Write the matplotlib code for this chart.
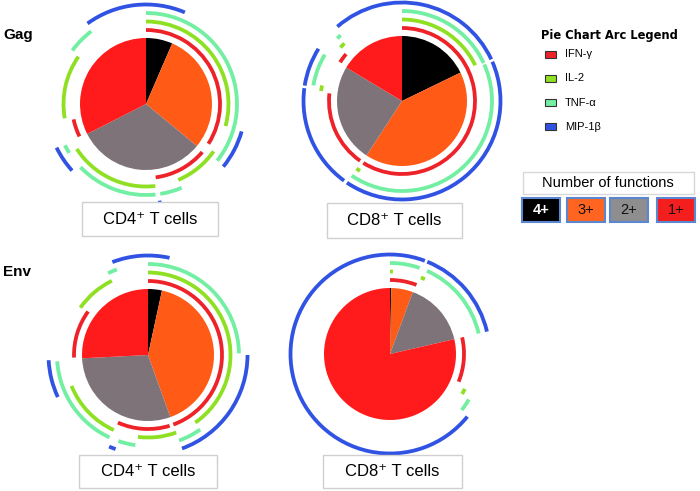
import matplotlib
matplotlib.use('Agg')
import matplotlib.pyplot as plt
from matplotlib.patches import Wedge, Rectangle

H = 491  # figure height in px, layout below uses image coords (y down)

fn_labels = ['IFN-γ', 'IL-2', 'TNF-α', 'MIP-1β']
arc_colors = ['#EE2229', '#8FE023', '#72EFA2', '#3153E3']
n_labels = ['4+', '3+', '2+', '1+']
pie_colors = ['#000000', '#FF5B17', '#7E7379', '#FF1B1B']
box_colors = ['#000000', '#FF6420', '#8E8E8E', '#F41E1E']

# share of cells by number of functions (%)
gag_cd4 = [6.5, 29.5, 31.5, 32.5]
gag_cd8 = [17.8, 41.4, 24.4, 16.4]
env_cd4 = [3.4, 41.1, 29.7, 25.8]
env_cd8 = [0.3, 5.3, 15.8, 78.6]

# arcs: (start, end) in degrees clockwise from 12 o'clock, one list per ring
gag_cd4_arcs = [
    [(0, 122.5), (130.5, 172.5), (244, 258)],
    [(0, 105.5), (125, 157), (173.5, 237), (260, 305)],
    [(0, 128.5), (157, 171), (174, 226), (237.5, 243), (306, 323)],
    [(-36, 23), (106, 129), (171, 173), (228, 244)],
]
gag_cd8_arcs = [
    [(0, 212), (215, 276), (302, 310)],
    [(0, 64), (211, 214), (277, 281), (311, 315)],
    [(0, 65), (66, 214), (280, 301), (314, 317)],
    [(-41, 65), (66.5, 214), (216, 277.5), (279, 302)],
]
env_cd4_arcs = [
    [(0, 160), (163, 204), (268, 306)],
    [(0, 145), (160, 187), (204.5, 248), (305, 334)],
    [(0, 89), (145, 160), (188, 199), (205, 266), (334, 340)],
    [(-21, 12.5), (90, 160), (199, 203), (245, 267)],
]
env_cd8_arcs = [
    [(0, 21), (77, 112)],
    [(0, 2), (22, 25), (115, 119)],
    [(0, 19), (24, 77), (120, 128)],
    [(22, 77), (129, 380.5)],
]

fig = plt.figure(figsize=(7, 4.91), dpi=100)
ax = fig.add_axes([0, 0, 1, 1])


def draw_pie(values, arcs, cx, cy, r):
    ax.pie(values, colors=pie_colors, startangle=90, counterclock=False,
           center=(cx, H - cy), radius=r, wedgeprops=dict(linewidth=0))
    offsets = [8, 16.5, 25, 33.5]
    for ring, segs in enumerate(arcs):
        rc = r + offsets[ring]
        for a0, a1 in segs:
            ax.add_patch(Wedge((cx, H - cy), rc + 1.9, 90 - a1, 90 - a0,
                               width=3.8, color=arc_colors[ring], lw=0))


def label_box(text, x0, y0, x1, y1):
    ax.add_patch(Rectangle((x0, H - y1), x1 - x0, y1 - y0, fc='white',
                           ec='#D0D0D0', lw=1))
    ax.text((x0 + x1) / 2, H - (y0 + y1) / 2, text, ha='center', va='center',
            fontsize=12, family=['Liberation Sans', 'DejaVu Sans'])


draw_pie(gag_cd4, gag_cd4_arcs, 146, 104, 66)
draw_pie(gag_cd8, gag_cd8_arcs, 402, 101, 65)
draw_pie(env_cd4, env_cd4_arcs, 148, 355, 66)
draw_pie(env_cd8, env_cd8_arcs, 390, 354, 66)

label_box('CD4⁺ T cells', 82, 202, 218, 236)
label_box('CD8⁺ T cells', 327, 203, 462, 238)
label_box('CD4⁺ T cells', 79, 455, 217, 488)
label_box('CD8⁺ T cells', 323, 455, 462, 488)

ax.text(3, H - 35, 'Gag', fontsize=11, fontweight='bold', va='center',
        family='Liberation Sans')
ax.text(3, H - 272, 'Env', fontsize=11, fontweight='bold', va='center',
        family='Liberation Sans')

# arc legend
ax.text(541, H - 35, 'Pie Chart Arc Legend', fontsize=8.3, fontweight='bold',
        va='center')
for i, lab in enumerate(fn_labels):
    y = 54 + i * 24.3
    ax.add_patch(Rectangle((545, H - y - 3.5), 11, 7, fc=arc_colors[i],
                           ec='#333333', lw=0.8))
    ax.text(565, H - y, lab, fontsize=8, va='center',
            family=['Liberation Sans', 'DejaVu Sans'])

# number of functions legend
ax.add_patch(Rectangle((523, H - 194), 171, 22, fc='white', ec='#D8D8D8', lw=1))
ax.text(608, H - 183, 'Number of functions', fontsize=10.5, ha='center',
        va='center', family='Liberation Sans')
box_x = [522, 567, 610, 657]
for i, lab in enumerate(n_labels):
    ax.add_patch(Rectangle((box_x[i], H - 222), 38, 24, fc=box_colors[i],
                           ec='#5B86D0', lw=1.5))
    ax.text(box_x[i] + 19, H - 210, lab, fontsize=10.5, ha='center',
            va='center', family='Liberation Sans',
            color='white' if i == 0 else '#111111',
            fontweight='bold' if i == 0 else 'normal')

ax.set_xlim(0, 700)
ax.set_ylim(0, H)
ax.set_aspect('auto')
ax.axis('off')

fig.savefig('out.png', dpi=100)
